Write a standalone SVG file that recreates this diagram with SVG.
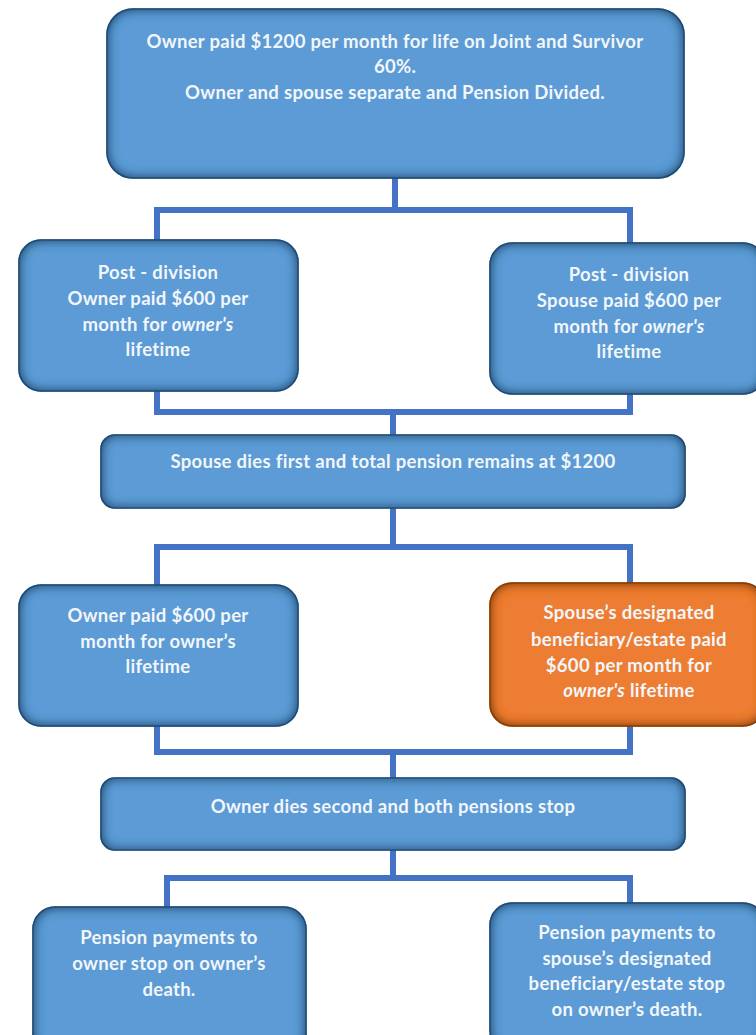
<svg xmlns="http://www.w3.org/2000/svg" width="756" height="1035" viewBox="0 0 756 1035">
<style>
.t{font-family:Lato,"Liberation Sans",sans-serif;font-size:18.5px;font-weight:bold;letter-spacing:0.3px;fill:#F2F6FB;text-anchor:middle}
.i{font-style:italic}
.b{fill:#5B9BD5;stroke:#34659A;stroke-width:1.5;filter:url(#inb)}
.o{fill:#ED7D31;stroke:#A9521A;stroke-width:1.5;filter:url(#ino)}
.c{fill:none;stroke:#4472C4;stroke-width:6}
</style>
<defs>
<filter id="inb" x="-10%" y="-10%" width="120%" height="120%">
<feFlood flood-color="#173F66" flood-opacity="1"/>
<feComposite in2="SourceAlpha" operator="out"/>
<feGaussianBlur stdDeviation="6"/>
<feComposite in2="SourceAlpha" operator="in" result="sh"/>
<feMerge><feMergeNode in="SourceGraphic"/><feMergeNode in="sh"/><feMergeNode in="sh"/></feMerge>
</filter>
<filter id="ino" x="-10%" y="-10%" width="120%" height="120%">
<feFlood flood-color="#7A3408" flood-opacity="1"/>
<feComposite in2="SourceAlpha" operator="out"/>
<feGaussianBlur stdDeviation="6"/>
<feComposite in2="SourceAlpha" operator="in" result="sh"/>
<feMerge><feMergeNode in="SourceGraphic"/><feMergeNode in="sh"/><feMergeNode in="sh"/></feMerge>
</filter>
</defs>
<rect width="756" height="1035" fill="#FFFFFF"/>
<g id="connectors">
<path class="c" d="M395 177 V210 M157 244 V210 H630 V246"/>
<path class="c" d="M157 388 V412 H630 V391 M393 412 V437"/>
<path class="c" d="M393 506 V547 M157 587 V547 H630 V585"/>
<path class="c" d="M157 723 V752 H630 V723 M393 752 V780"/>
<path class="c" d="M393 848 V878 M167 909 V878 H630 V905"/>
</g>
<g id="n1">
<rect class="b" x="107" y="9" width="577" height="169" rx="26"/>
<text class="t" x="395" y="48">Owner paid $1200 per month for life on Joint and Survivor</text>
<text class="t" x="395" y="73">60%.</text>
<text class="t" x="395" y="99">Owner and spouse separate and Pension Divided.</text>
</g>
<g id="n2">
<rect class="b" x="19" y="240" width="279" height="151" rx="22"/>
<text class="t" x="158" y="279">Post - division</text>
<text class="t" x="158" y="305">Owner paid $600 per</text>
<text class="t" x="158" y="331">month for <tspan class="i">owner's</tspan></text>
<text class="t" x="158" y="356">lifetime</text>
</g>
<g id="n3">
<rect class="b" x="490" y="243" width="275" height="151" rx="22"/>
<text class="t" x="629" y="281">Post - division</text>
<text class="t" x="629" y="307">Spouse paid $600 per</text>
<text class="t" x="629" y="333">month for <tspan class="i">owner's</tspan></text>
<text class="t" x="629" y="358">lifetime</text>
</g>
<g id="n4">
<rect class="b" x="101" y="435" width="584" height="73" rx="14"/>
<text class="t" x="393" y="468">Spouse dies first and total pension remains at $1200</text>
</g>
<g id="n5">
<rect class="b" x="19" y="585" width="279" height="141" rx="22"/>
<text class="t" x="158" y="622">Owner paid $600 per</text>
<text class="t" x="158" y="648">month for owner’s</text>
<text class="t" x="158" y="673">lifetime</text>
</g>
<g id="n6">
<rect class="o" x="490" y="583" width="275" height="143" rx="22"/>
<text class="t" x="629" y="619">Spouse’s designated</text>
<text class="t" x="629" y="646">beneficiary/estate paid</text>
<text class="t" x="629" y="672">$600 per month for</text>
<text class="t" x="629" y="697"><tspan class="i">owner's</tspan> lifetime</text>
</g>
<g id="n7">
<rect class="b" x="101" y="778" width="584" height="72" rx="14"/>
<text class="t" x="393" y="813">Owner dies second and both pensions stop</text>
</g>
<g id="n8">
<rect class="b" x="33" y="907" width="273" height="150" rx="22"/>
<text class="t" x="169" y="944">Pension payments to</text>
<text class="t" x="169" y="970">owner stop on owner’s</text>
<text class="t" x="169" y="996">death.</text>
</g>
<g id="n9">
<rect class="b" x="490" y="903" width="275" height="150" rx="22"/>
<text class="t" x="627" y="939">Pension payments to</text>
<text class="t" x="627" y="965">spouse’s designated</text>
<text class="t" x="627" y="990">beneficiary/estate stop</text>
<text class="t" x="627" y="1016">on owner’s death.</text>
</g>
</svg>
